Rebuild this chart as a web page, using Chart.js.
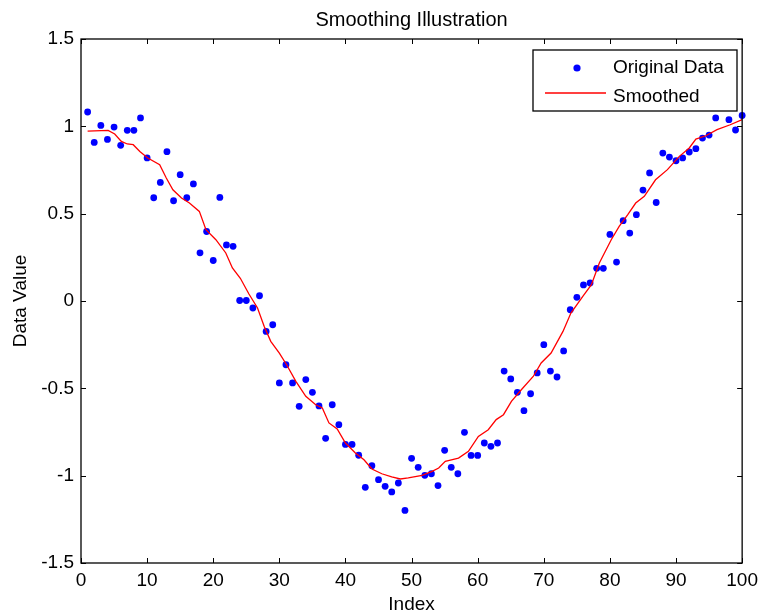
<!DOCTYPE html>
<html>
<head>
<meta charset="utf-8">
<script src="https://cdn.jsdelivr.net/npm/chart.js@4.4.1/dist/chart.umd.min.js"></script>
<style>
  html, body { margin: 0; padding: 0; background: #fff; }
  #wrap { width: 764px; height: 616px; }
</style>
</head>
<body>
<div id="wrap"><canvas id="myChart" width="764" height="616"></canvas></div>
<script>
// sample index (x) of the raw data
const indexValues = [
  1, 2, 3, 4, 5, 6, 7, 8, 9, 10,
  11, 12, 13, 14, 15, 16, 17, 18, 19, 20,
  21, 22, 23, 24, 25, 26, 27, 28, 29, 30,
  31, 32, 33, 34, 35, 36, 37, 38, 39, 40,
  41, 42, 43, 44, 45, 46, 47, 48, 49, 50,
  51, 52, 53, 54, 55, 56, 57, 58, 59, 60,
  61, 62, 63, 64, 65, 66, 67, 68, 69, 70,
  71, 72, 73, 74, 75, 76, 77, 78, 79, 80,
  81, 82, 83, 84, 85, 86, 87, 88, 89, 90,
  91, 92, 93, 94, 95, 96, 97, 98, 99, 100
];

// noisy values
const originalData = [
  1.082, 0.908, 1.005, 0.925, 0.996, 0.891, 0.977, 0.977, 1.048, 0.819,
  0.591, 0.679, 0.855, 0.574, 0.723, 0.591, 0.670, 0.276, 0.398, 0.232,
  0.593, 0.321, 0.313, 0.003, 0.003, -0.040, 0.030, -0.174, -0.136, -0.469,
  -0.365, -0.469, -0.603, -0.450, -0.523, -0.601, -0.786, -0.594, -0.708, -0.821,
  -0.821, -0.883, -1.067, -0.943, -1.023, -1.061, -1.093, -1.042, -1.199, -0.901,
  -0.952, -0.998, -0.989, -1.057, -0.855, -0.952, -0.989, -0.752, -0.884, -0.884,
  -0.813, -0.832, -0.813, -0.401, -0.446, -0.523, -0.628, -0.531, -0.412, -0.250,
  -0.401, -0.435, -0.286, -0.050, 0.021, 0.092, 0.103, 0.187, 0.187, 0.381,
  0.223, 0.460, 0.389, 0.494, 0.635, 0.733, 0.564, 0.847, 0.824, 0.803,
  0.819, 0.853, 0.872, 0.933, 0.950, 1.048, 1.130, 1.038, 0.979, 1.062
];

// smoothed curve, read at points along the red line
const smoothX = [
  1, 4.1, 5.1, 6.1, 7.0, 7.9, 8.9, 10.1, 11.9, 12.9,
  13.9, 15.2, 16.4, 17.9, 18.9, 20.4, 21.9, 22.9, 24.1, 25.4,
  26.7, 27.7, 28.7, 30.0, 31.1, 32.5, 34.0, 35.5, 36.5, 37.5,
  38.75, 40.0, 41.5, 42.8, 44.0, 45.5, 47.0, 48.3, 49.5, 51.6,
  53.1, 54.1, 55.1, 57.1, 58.6, 60.1, 61.6, 62.8, 63.9, 65.1,
  66.6, 68.4, 69.6, 71.1, 72.9, 74.1, 75.9, 77.2, 78.4, 80.2,
  81.4, 82.7, 83.9, 85.2, 86.9, 88.7, 90.5, 92.0, 93.0, 94.5,
  96.2, 98.2, 100
];
const smoothY = [
  0.973, 0.977, 0.956, 0.914, 0.899, 0.895, 0.856, 0.819, 0.780, 0.704,
  0.637, 0.590, 0.561, 0.513, 0.408, 0.351, 0.275, 0.189, 0.130, 0.040,
  -0.040, -0.145, -0.231, -0.298, -0.365, -0.460, -0.546, -0.594, -0.612, -0.698,
  -0.733, -0.813, -0.870, -0.909, -0.962, -0.989, -1.007, -1.019, -1.013, -0.998,
  -0.975, -0.956, -0.918, -0.899, -0.861, -0.775, -0.737, -0.679, -0.651, -0.575,
  -0.508, -0.432, -0.355, -0.298, -0.174, -0.069, 0.026, 0.093, 0.218, 0.351,
  0.427, 0.494, 0.561, 0.599, 0.694, 0.752, 0.828, 0.876, 0.927, 0.946,
  0.981, 1.009, 1.038
];

const xTicks = [0, 10, 20, 30, 40, 50, 60, 70, 80, 90, 100];
const yTicks = [-1.5, -1, -0.5, 0, 0.5, 1, 1.5];

const FONT = '"Liberation Sans", Arial, Helvetica, sans-serif';

// 축 테두리 + 안쪽 눈금 + 제목
const matlabAxes = {
  id: "matlabAxes",
  afterDatasetsDraw(chart) {
    const { ctx, chartArea: a, scales } = chart;
    ctx.save();
    ctx.strokeStyle = "#000";
    ctx.lineWidth = 1.3;
    ctx.strokeRect(a.left, a.top, a.right - a.left, a.bottom - a.top);

    const len = 5;
    ctx.beginPath();
    xTicks.forEach((t) => {
      const px = Math.round(scales.x.getPixelForValue(t)) + 0.5;
      ctx.moveTo(px, a.bottom);
      ctx.lineTo(px, a.bottom - len);
      ctx.moveTo(px, a.top);
      ctx.lineTo(px, a.top + len);
    });
    yTicks.forEach((t) => {
      const py = Math.round(scales.y.getPixelForValue(t)) + 0.5;
      ctx.moveTo(a.left, py);
      ctx.lineTo(a.left + len, py);
      ctx.moveTo(a.right, py);
      ctx.lineTo(a.right - len, py);
    });
    ctx.lineWidth = 1;
    ctx.stroke();

    ctx.fillStyle = "#000";
    ctx.font = "20px " + FONT;
    ctx.textAlign = "center";
    ctx.textBaseline = "alphabetic";
    ctx.fillText("Smoothing Illustration", (a.left + a.right) / 2, 26);
    ctx.restore();
  },
};

// 박스 범례 (차트 영역 안, 오른쪽 위)
const boxLegend = {
  id: "boxLegend",
  afterDraw(chart) {
    const ctx = chart.ctx;
    const ds = chart.data.datasets;
    const x0 = 533, y0 = 50, w = 204, h = 61;
    ctx.save();
    ctx.fillStyle = "#fff";
    ctx.fillRect(x0, y0, w, h);
    ctx.strokeStyle = "#000";
    ctx.lineWidth = 1.3;
    ctx.strokeRect(x0, y0, w, h);

    // dots entry
    ctx.fillStyle = ds[1].backgroundColor;
    ctx.beginPath();
    ctx.arc(577, 68, 3.6, 0, Math.PI * 2);
    ctx.fill();

    // line entry
    ctx.strokeStyle = ds[0].borderColor;
    ctx.lineWidth = 1.3;
    ctx.beginPath();
    ctx.moveTo(545, 93);
    ctx.lineTo(606, 93);
    ctx.stroke();

    ctx.fillStyle = "#000";
    ctx.font = "19px " + FONT;
    ctx.textAlign = "left";
    ctx.textBaseline = "middle";
    ctx.fillText(ds[1].label, 613, 68);
    ctx.fillText(ds[0].label, 613, 97);
    ctx.restore();
  },
};

const ctx = document.getElementById("myChart").getContext("2d");

new Chart(ctx, {
  type: "scatter",
  data: {
    datasets: [
      {
        label: "Smoothed",
        data: smoothX.map((x, i) => ({ x: x, y: smoothY[i] })),
        showLine: true,
        borderColor: "#ff0000",
        borderWidth: 1.3,
        pointRadius: 0,
        tension: 0,
        order: 0,
      },
      {
        label: "Original Data",
        data: indexValues.map((x, i) => ({ x: x, y: originalData[i] })),
        backgroundColor: "#0000ff",
        borderColor: "#0000ff",
        pointRadius: 3.4,
        pointBorderWidth: 0,
        clip: false,
        order: 1,
      },
    ],
  },
  options: {
    responsive: false,
    animation: false,
    devicePixelRatio: 1,
    layout: { padding: { top: 39, right: 19, bottom: 0, left: 0 } },
    plugins: {
      legend: { display: false },
      tooltip: { enabled: false },
      title: { display: false },
    },
    scales: {
      x: {
        type: "linear",
        min: 0,
        max: 100,
        afterBuildTicks: (s) => { s.ticks = xTicks.map((v) => ({ value: v })); },
        afterFit: (s) => { s.height = 53; },
        grid: { display: false, drawTicks: false },
        border: { display: false },
        ticks: {
          color: "#000",
          padding: 6,
          maxRotation: 0,
          callback: (v) => String(v),
          font: { family: FONT, size: 19 },
        },
        title: {
          display: true,
          text: "Index",
          color: "#000",
          padding: { top: 0, bottom: 0 },
          font: { family: FONT, size: 19 },
        },
      },
      y: {
        type: "linear",
        min: -1.5,
        max: 1.5,
        afterBuildTicks: (s) => { s.ticks = yTicks.map((v) => ({ value: v })); },
        afterFit: (s) => { s.width = 81; },
        grid: { display: false, drawTicks: false },
        border: { display: false },
        ticks: {
          color: "#000",
          padding: 7,
          callback: (v) => String(v),
          font: { family: FONT, size: 19 },
        },
        title: {
          display: true,
          text: "Data Value",
          color: "#000",
          padding: { top: 9, bottom: 0 },
          font: { family: FONT, size: 19 },
        },
      },
    },
  },
  plugins: [matlabAxes, boxLegend],
});
</script>
</body>
</html>
